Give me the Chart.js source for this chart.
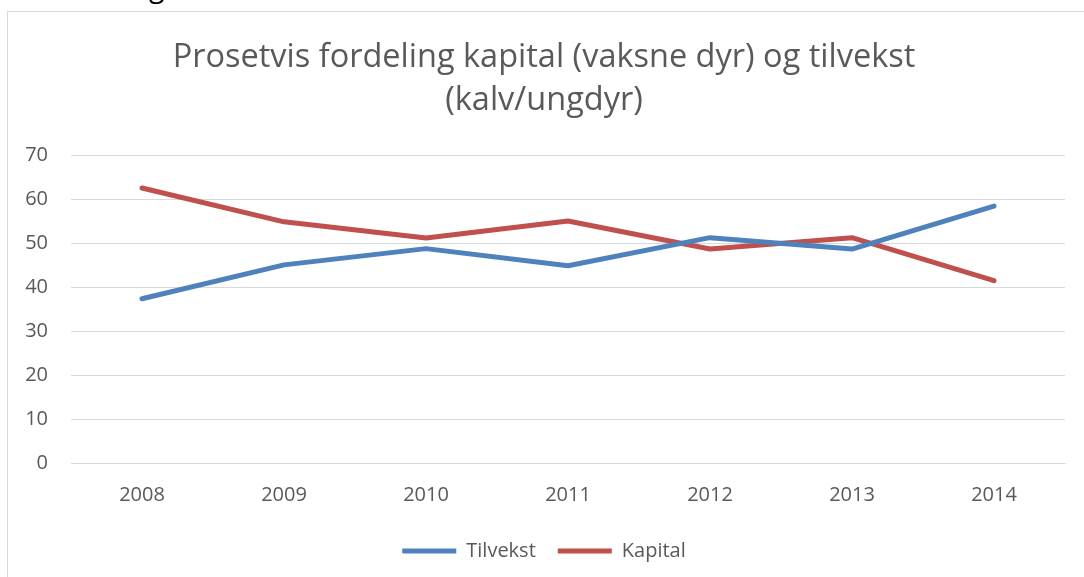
<!DOCTYPE html>
<html>
<head>
<meta charset="utf-8">
<script src="https://cdn.jsdelivr.net/npm/chart.js@4/dist/chart.umd.min.js"></script>
<style>
html, body { margin: 0; padding: 0; background: #fff; overflow: hidden; }
body { width: 1084px; height: 577px; position: relative; }
#clip { position: absolute; left: 42px; top: -33px; font-family: "Open Sans", sans-serif; font-size: 28px; color: #000; white-space: nowrap; }
#box { position: absolute; left: 7px; top: 11px; width: 1100px; height: 600px; border: 1px solid #d9d9d9; box-sizing: border-box; background: #fff; }
#wrap { position: absolute; left: 8px; top: 12px; width: 1084px; height: 565px; }
</style>
</head>
<body>
<div id="clip">Fordeling</div>
<div id="box"></div>
<div id="wrap"><canvas id="chart"></canvas></div>
<script>
var years = ['2008', '2009', '2010', '2011', '2012', '2013', '2014'];
var tilvekst = [37.4, 45.1, 48.8, 44.9, 51.3, 48.7, 58.5];
var kapital = [62.6, 54.9, 51.2, 55.1, 48.7, 51.3, 41.5];
var titleLines = ['Prosetvis fordeling kapital (vaksne dyr) og tilvekst', '(kalv/ungdyr)'];

var textColor = '#595959';
var gridColor = '#d9d9d9';
var fontName = 'Open Sans';

var ctx = document.getElementById('chart').getContext('2d');
var chart = new Chart(ctx, {
  type: 'line',
  data: {
    labels: years,
    datasets: [
      {
        label: 'Tilvekst',
        data: tilvekst,
        borderColor: '#4F81BD',
        backgroundColor: '#4F81BD',
        borderWidth: 5,
        borderCapStyle: 'round',
        borderJoinStyle: 'round',
        pointRadius: 0,
        tension: 0,
        fill: false
      },
      {
        label: 'Kapital',
        data: kapital,
        borderColor: '#C0504D',
        backgroundColor: '#C0504D',
        borderWidth: 5,
        borderCapStyle: 'round',
        borderJoinStyle: 'round',
        pointRadius: 0,
        tension: 0,
        fill: false
      }
    ]
  },
  options: {
    responsive: true,
    maintainAspectRatio: false,
    animation: false,
    layout: { padding: { left: 15, right: 27, top: 0, bottom: 6 } },
    plugins: {
      title: {
        display: true,
        text: titleLines,
        color: textColor,
        font: { family: fontName, size: 32.5, weight: 'normal', lineHeight: 1.3 },
        padding: { top: 25, bottom: 34 }
      },
      legend: {
        position: 'bottom',
        labels: {
          usePointStyle: true,
          pointStyle: 'line',
          pointStyleWidth: 54,
          color: textColor,
          font: { family: fontName, size: 20 },
          padding: 22
        }
      },
      tooltip: { enabled: false }
    },
    scales: {
      x: {
        offset: true,
        grid: { display: false },
        border: { color: gridColor, width: 1 },
        ticks: { color: textColor, font: { family: fontName, size: 20 }, padding: 12 }
      },
      y: {
        min: 0,
        max: 70,
        afterFit: function (scale) { scale.width = 48; },
        grid: { color: gridColor, lineWidth: 1, drawTicks: false },
        border: { display: false },
        ticks: { stepSize: 10, color: textColor, font: { family: fontName, size: 20 }, padding: 23 }
      }
    }
  }
});
</script>
</body>
</html>
